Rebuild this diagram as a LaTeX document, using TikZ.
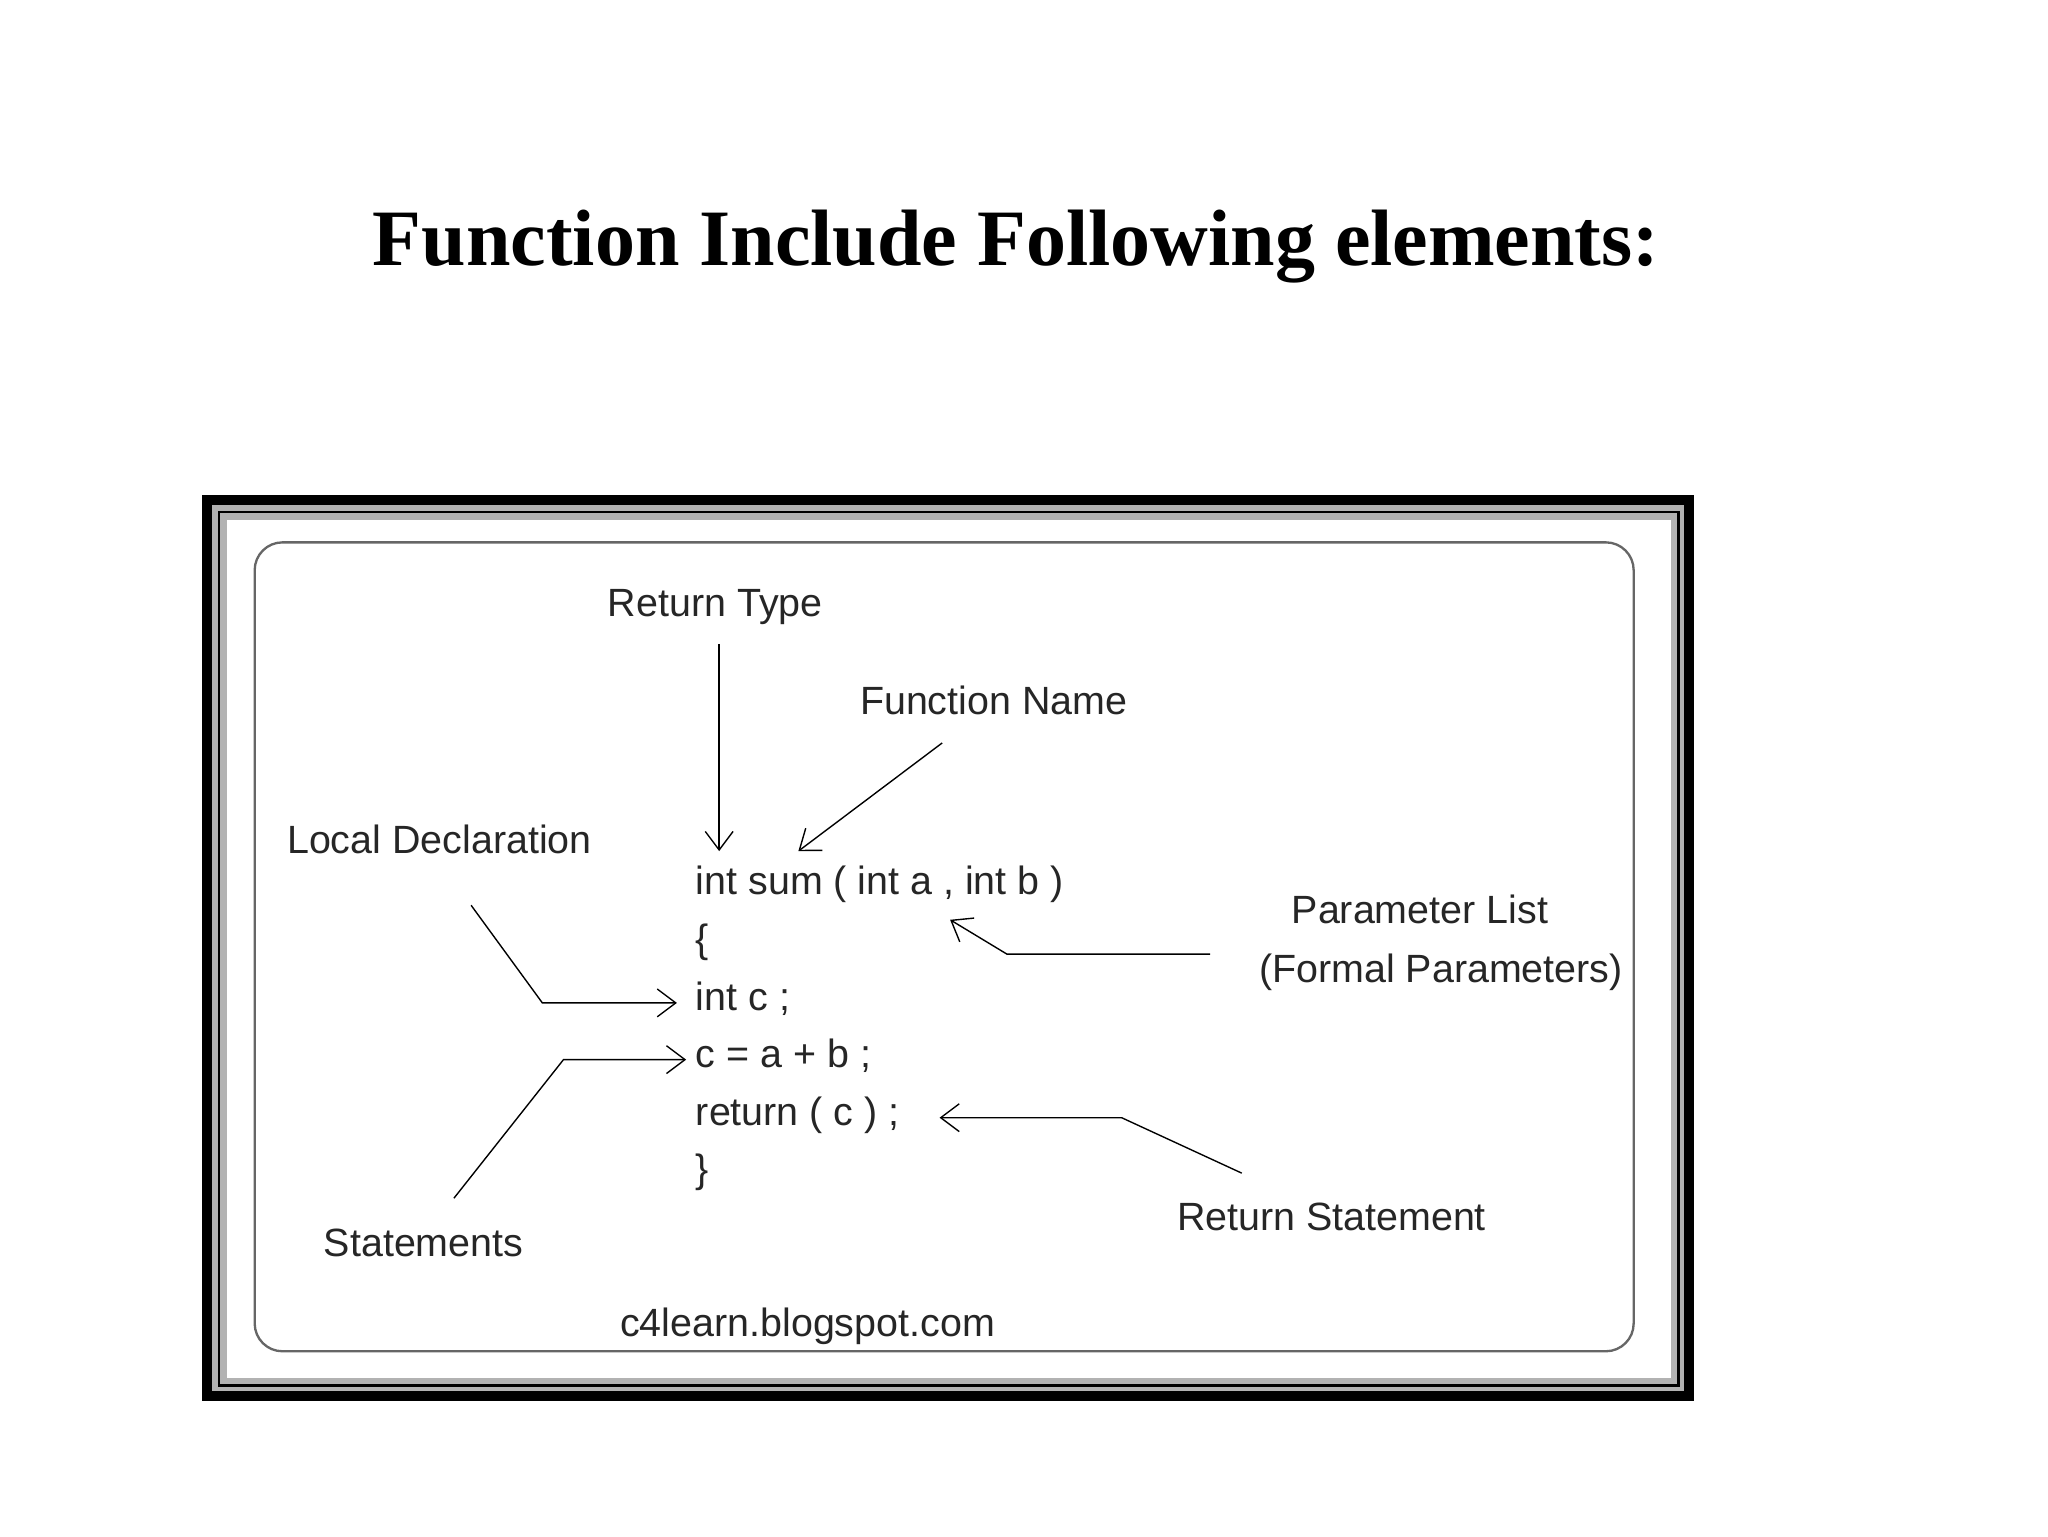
\documentclass[tikz,border=0pt]{standalone}
\usepackage{fontspec}
\setmainfont{Liberation Serif}
\newfontfamily\lab{Liberation Sans}
\usetikzlibrary{arrows.meta}
\begin{document}
\begin{tikzpicture}[x=0.02cm,y=-0.02cm,
  lbl/.style={font=\lab\fontsize{17}{19}\selectfont,color=black!85,inner sep=0pt},
  code/.style={font=\lab\fontsize{17}{19}\selectfont,color=black!85,anchor=west,inner sep=0pt},
  arr/.style={line width=0.6pt,-{Straight Barb[length=8pt,width=12pt]}}]
\useasboundingbox (0,0) rectangle (1552,1164);
\node[font=\bfseries\fontsize{34.5}{38}\selectfont,inner sep=0pt] (title) at (770,187) {Function Include Following elements:};
% frame
\fill[black!30] (159,381) rectangle (1278,1056);
\fill[white] (172,394) rectangle (1266,1044);
\draw[line width=4.5pt] (157,379) rectangle (1280,1058);
\draw[line width=1.2pt] (166,388) rectangle (1272,1050);
\draw[black!60,line width=1pt,rounded corners=12] (193,411) rectangle (1238,1024);
% labels
\node[lbl] (rt) at (542,460) {Return Type};
\node[lbl] (fn) at (753,531) {Function Name};
\node[lbl] (ld) at (333,636) {Local Declaration};
\node[lbl] (pl) at (1076,689) {Parameter List};
\node[lbl] (fp) at (1092,737) {(Formal Parameters)};
\node[lbl] (st) at (321,942) {Statements};
\node[lbl] (rs) at (1009,922) {Return Statement};
\node[lbl] (web) at (612,1005) {c4learn.blogspot.com};
% code
\node[code] (l1) at (527,670) {int sum ( int a , int b )};
\node[code] (l2) at (527,714) {\{};
\node[code] (l3) at (527,757) {int c ;};
\node[code] (l4) at (527,800) {c = a + b ;};
\node[code] (l5) at (527,845) {return ( c ) ;};
\node[code] (l6) at (527,888) {\}};
% coordinates
\coordinate (a1) at (545,488); \coordinate (a1e) at (545,645);
\coordinate (a2) at (714,563); \coordinate (a2e) at (605,645);
\coordinate (b1) at (357,686); \coordinate (b2) at (411,760); \coordinate (b3) at (513,760);
\coordinate (c1) at (917,723); \coordinate (c2) at (763,723); \coordinate (c3) at (720,697);
\coordinate (d1) at (344,908); \coordinate (d2) at (427,803); \coordinate (d3) at (520,803);
\coordinate (e1) at (941,889); \coordinate (e2) at (850,847); \coordinate (e3) at (712,847);
\draw[arr] (a1) -- (a1e);
\draw[arr] (a2) -- (a2e);
\draw[arr] (b1) -- (b2) -- (b3);
\draw[arr] (c1) -- (c2) -- (c3);
\draw[arr] (d1) -- (d2) -- (d3);
\draw[arr] (e1) -- (e2) -- (e3);
\end{tikzpicture}
\end{document}
